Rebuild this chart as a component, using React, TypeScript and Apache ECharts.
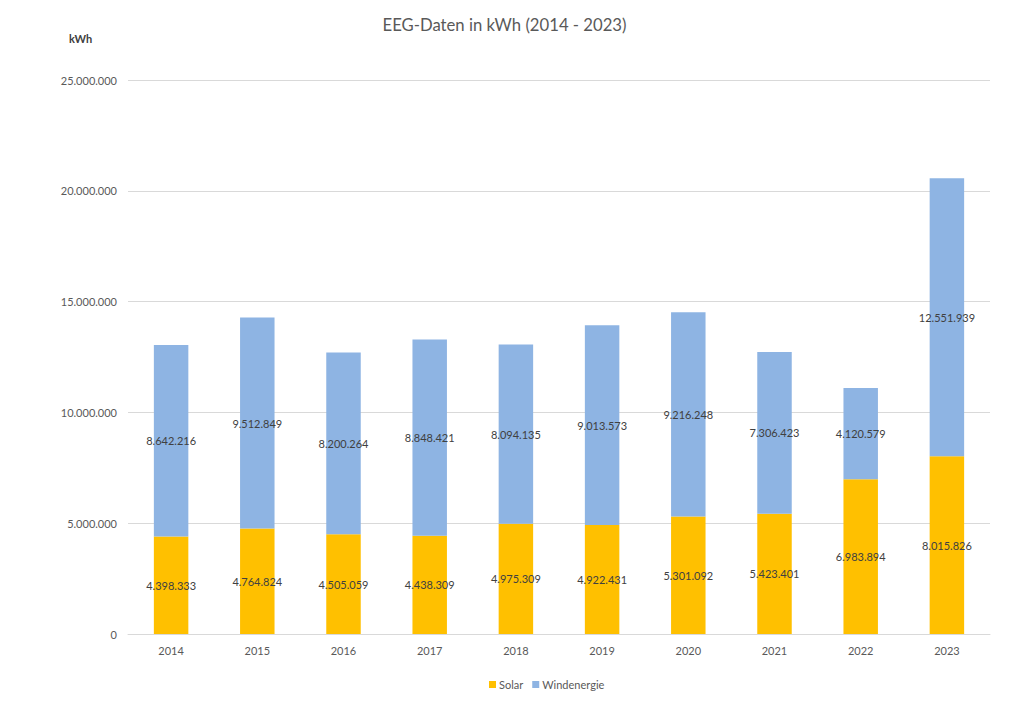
import React, { useEffect, useRef } from "react";
import * as echarts from "echarts";

const years = ["2014", "2015", "2016", "2017", "2018", "2019", "2020", "2021", "2022", "2023"];
const solar = [4398333, 4764824, 4505059, 4438309, 4975309, 4922431, 5301092, 5423401, 6983894, 8015826];
const wind = [8642216, 9512849, 8200264, 8848421, 8094135, 9013573, 9216248, 7306423, 4120579, 12551939];

const fmt = (v: number) => String(Math.round(v)).replace(/\B(?=(\d{3})+(?!\d))/g, ".");

const FONT = "Lato, 'Open Sans', sans-serif";

export default function App() {
  const ref = useRef<HTMLDivElement>(null);
  useEffect(() => {
    if (!ref.current) return;
    const chart = echarts.init(ref.current, undefined, { renderer: "svg" });
    chart.setOption({
      animation: false,
      backgroundColor: "#ffffff",
      textStyle: { fontFamily: FONT },
      title: {
        text: "EEG-Daten in kWh (2014 - 2023)",
        left: "center",
        top: 11,
        textStyle: { fontFamily: FONT, fontSize: 16.7, fontWeight: "normal", color: "#595959" },
      },
      graphic: [
        {
          type: "text",
          left: 69,
          top: 33,
          style: { text: "kWh", fontFamily: FONT, fontSize: 11, fontWeight: "bold", fill: "#404040" },
        },
      ],
      legend: {
        left: 484,
        top: 674,
        itemWidth: 7,
        itemHeight: 7,
        itemGap: 9,
        icon: "rect",
        textStyle: { fontFamily: FONT, fontSize: 11, color: "#595959", padding: [0, 0, 0, -2] },
        data: ["Solar", "Windenergie"],
      },
      grid: { left: 128, right: 19, top: 80, bottom: 71, containLabel: false },
      xAxis: {
        type: "category",
        data: years,
        axisLine: { lineStyle: { color: "#d9d9d9" } },
        axisTick: { show: false },
        axisLabel: { fontFamily: FONT, fontSize: 11, color: "#595959", margin: 11 },
      },
      yAxis: {
        type: "value",
        min: 0,
        max: 25000000,
        interval: 5000000,
        axisLine: { show: false },
        axisTick: { show: false },
        splitLine: { lineStyle: { color: "#d9d9d9" } },
        axisLabel: { fontFamily: FONT, fontSize: 11, color: "#595959", margin: 11, formatter: (v: number) => fmt(v) },
      },
      series: [
        {
          name: "Solar",
          type: "bar",
          stack: "total",
          barWidth: "40%",
          data: solar,
          itemStyle: { color: "#FFC000" },
          label: {
            show: true,
            position: "inside",
            fontFamily: FONT,
            fontSize: 11,
            color: "#404040",
            formatter: (p: any) => fmt(p.value),
          },
        },
        {
          name: "Windenergie",
          type: "bar",
          stack: "total",
          barWidth: "40%",
          data: wind,
          itemStyle: { color: "#8EB4E3" },
          label: {
            show: true,
            position: "inside",
            fontFamily: FONT,
            fontSize: 11,
            color: "#404040",
            formatter: (p: any) => fmt(p.value),
          },
        },
      ],
    });
    return () => chart.dispose();
  }, []);
  return (
    <div
      style={{
        position: "fixed",
        left: 0,
        top: 0,
        width: 1009,
        height: 705,
        boxSizing: "border-box",
        border: "1px solid #d9d9d9",
        background: "#fff",
      }}
    >
      <div ref={ref} style={{ position: "absolute", left: -1, top: -1, width: 1009, height: 705 }} />
    </div>
  );
}
